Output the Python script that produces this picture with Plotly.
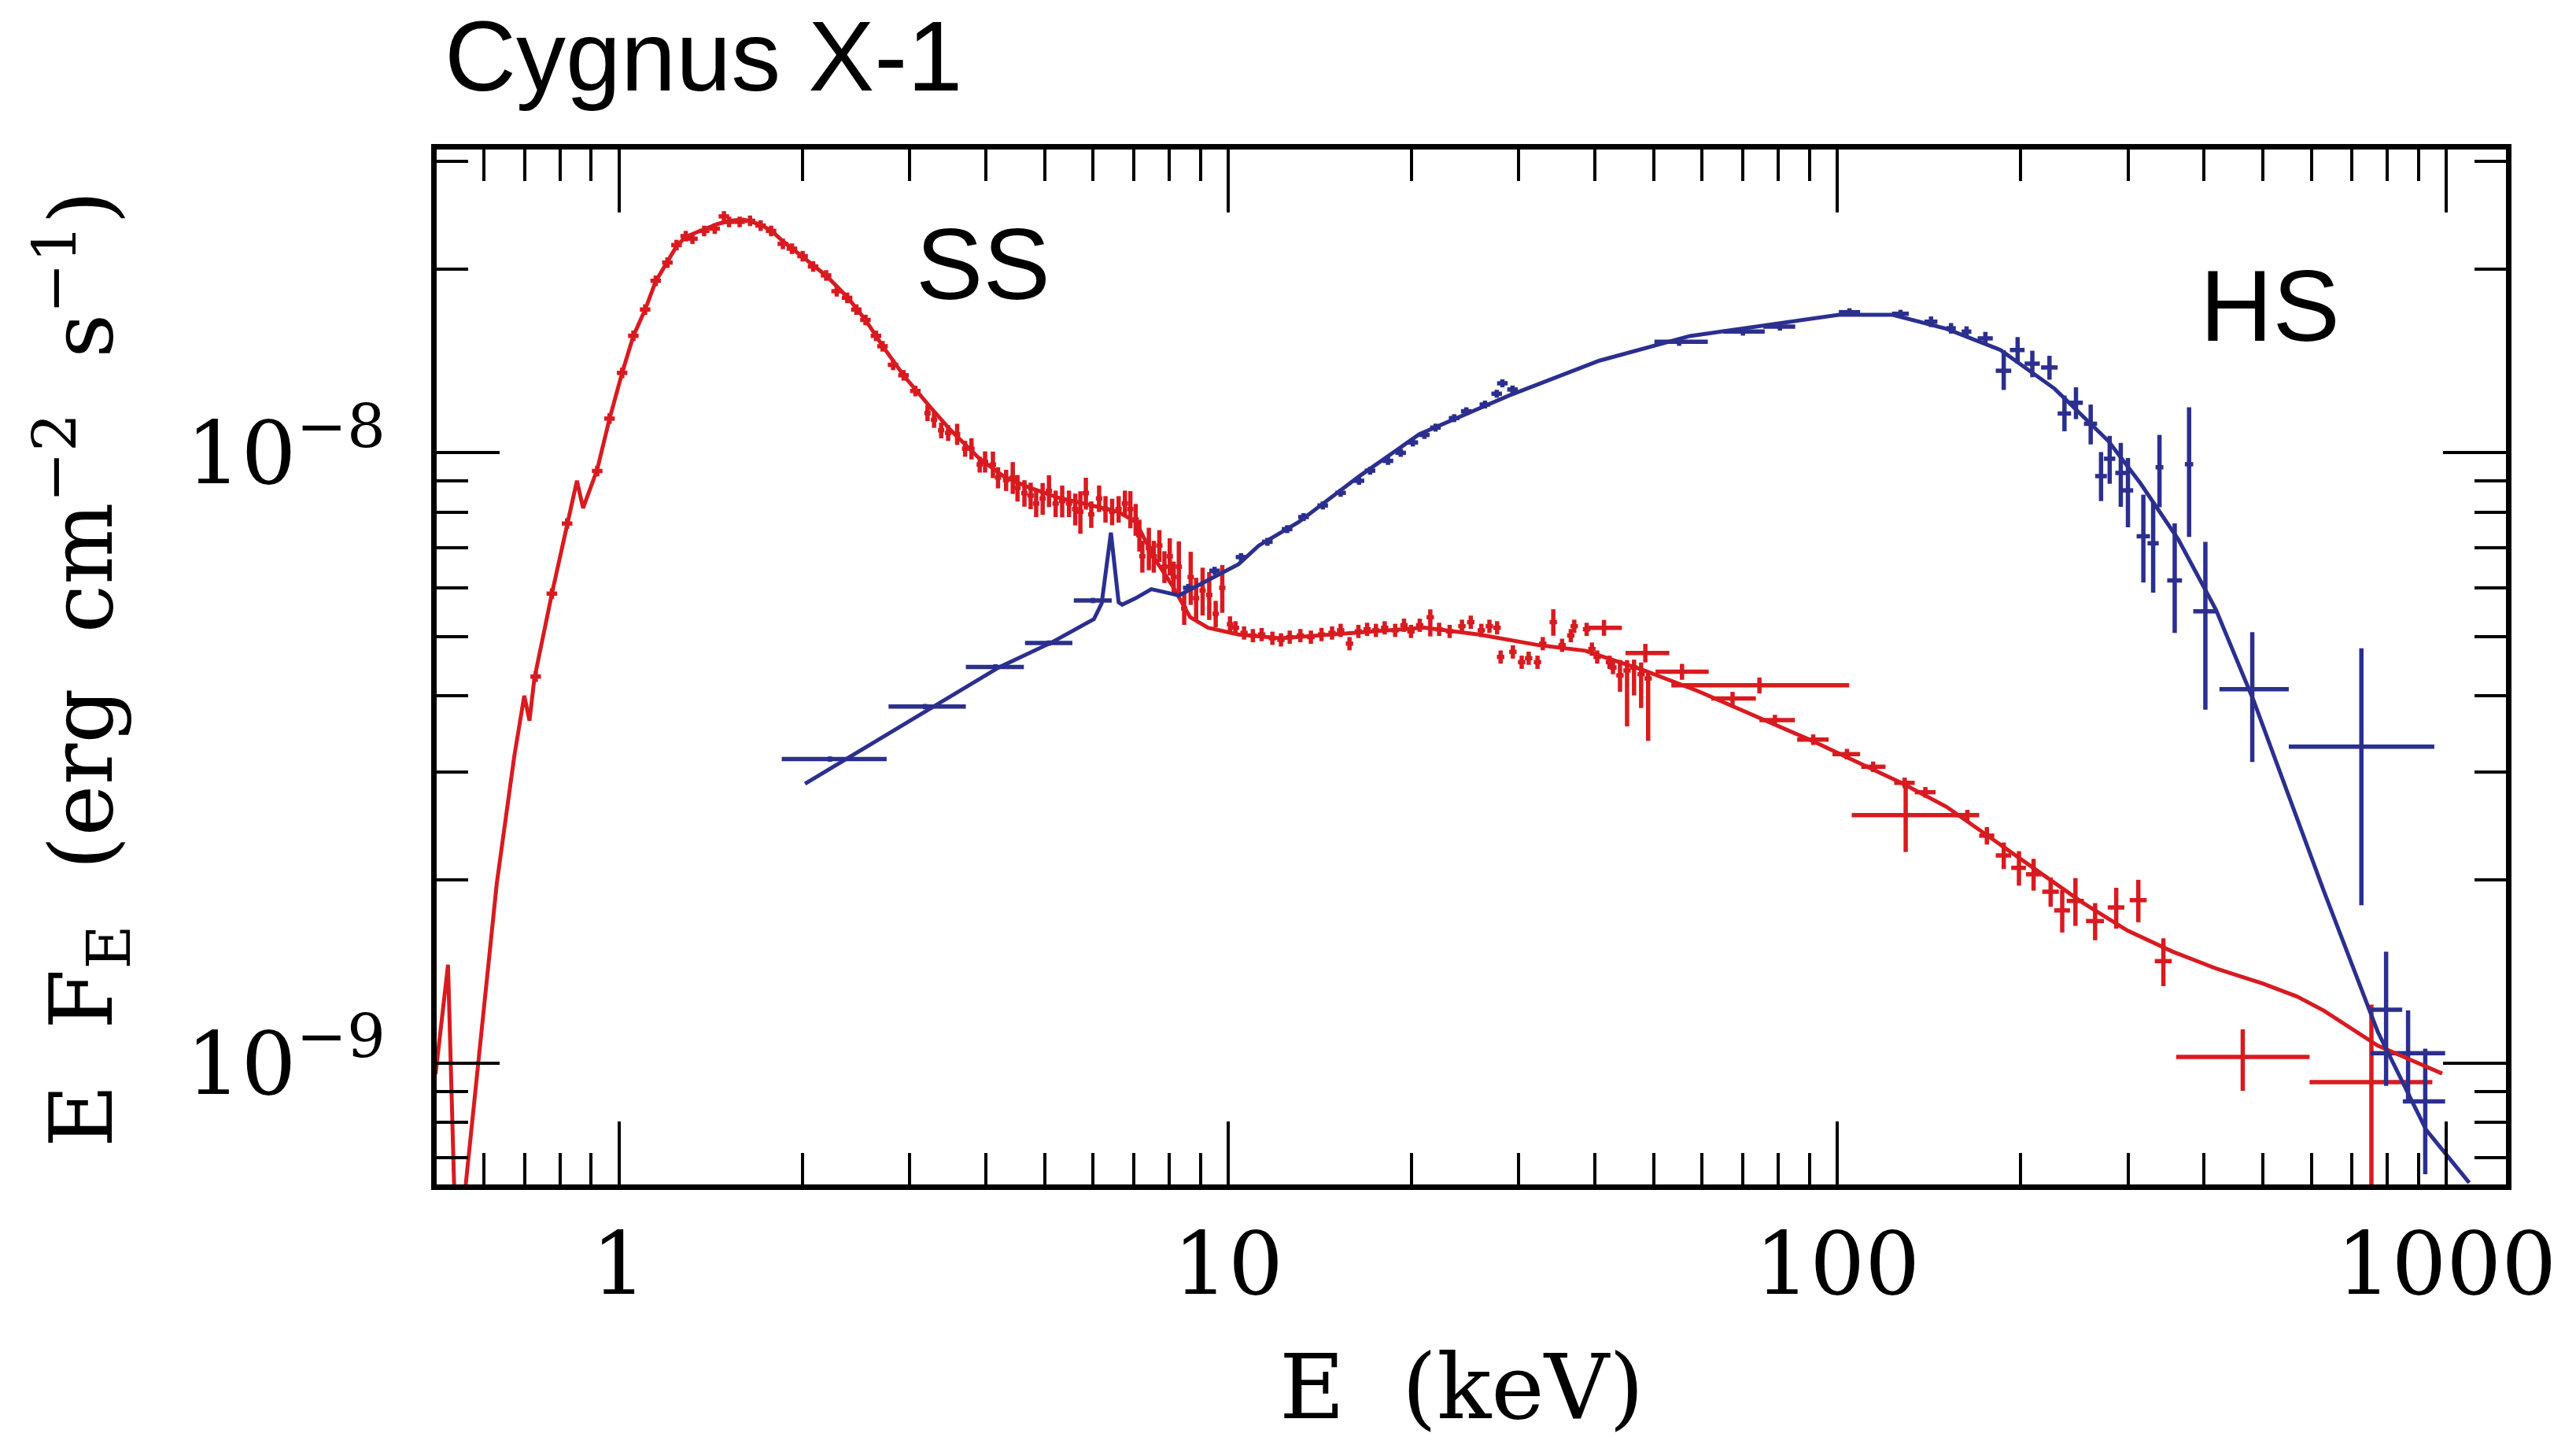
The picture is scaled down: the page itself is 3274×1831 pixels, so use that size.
import plotly.graph_objects as go

RED = "#D81B20"
BLUE = "#2B2F8E"

# ---------------- model curves ----------------
ss_model_E = [0.50, 0.524, 0.536, 0.548, 0.56, 0.63, 0.673, 0.699, 0.713, 0.726, 0.776, 0.822, 0.853, 0.873,
              0.921, 0.965, 1.012, 1.056, 1.104, 1.149, 1.201, 1.243, 1.287, 1.33, 1.38, 1.45, 1.52, 1.60, 1.70,
              1.78, 1.86, 2.0, 2.19, 2.37, 2.54, 2.71, 2.93, 3.24, 3.5, 3.9, 4.28, 4.69, 5.25, 5.88, 6.59, 7.06,
              7.55, 8.09, 8.66, 9.27, 10.4, 12.2, 14.0, 16.4, 21.0, 25.8, 32.4, 38.6, 44.3, 48.2, 59.1, 71.3,
              90.6, 107.4, 127.4, 151.2, 179.4, 212.7, 252.4, 299.3, 355, 418.6, 500, 568, 629, 771, 984]
ss_model_F = [9.6e-10, 1.45e-9, 6.4e-10, 4.0e-10, 6.3e-10, 1.97e-9, 3.18e-9, 4.0e-9, 3.64e-9, 4.26e-9, 5.88e-9,
              7.7e-9, 9.0e-9, 8.12e-9, 9.39e-9, 1.138e-8, 1.352e-8, 1.555e-8, 1.717e-8, 1.91e-8, 2.05e-8, 2.18e-8,
              2.26e-8, 2.29e-8, 2.32e-8, 2.37e-8, 2.40e-8, 2.41e-8, 2.37e-8, 2.31e-8, 2.22e-8, 2.10e-8, 1.95e-8,
              1.80e-8, 1.65e-8, 1.495e-8, 1.34e-8, 1.19e-8, 1.09e-8, 9.8e-9, 9.15e-9, 8.79e-9, 8.45e-9, 8.23e-9,
              8.01e-9, 7.7e-9, 6.74e-9, 6.07e-9, 5.38e-9, 5.17e-9, 5.04e-9, 4.97e-9, 5.02e-9, 5.07e-9, 5.17e-9,
              5.04e-9, 4.84e-9, 4.74e-9, 4.53e-9, 4.40e-9, 4.07e-9, 3.75e-9, 3.38e-9, 3.12e-9, 2.88e-9, 2.63e-9,
              2.33e-9, 2.07e-9, 1.835e-9, 1.65e-9, 1.524e-9, 1.43e-9, 1.35e-9, 1.287e-9, 1.22e-9, 1.069e-9, 9.62e-10]

hs_model_E = [2.02, 4.2, 5.13, 6.02, 6.20, 6.42, 6.61, 6.70, 7.05, 7.48, 7.94, 8.3, 8.77, 9.68, 10.4, 11.23,
              13.05, 16.4, 20.6, 28.9, 40.7, 57.3, 66.9, 82, 100.6, 123.3, 151.2, 185.3, 227.3, 278.7, 314.6,
              363, 418.6, 482.8, 629, 771, 926, 1090]
hs_model_F = [2.87e-9, 4.45e-9, 4.89e-9, 5.34e-9, 5.67e-9, 7.40e-9, 5.69e-9, 5.64e-9, 5.78e-9, 5.98e-9, 5.90e-9,
              5.84e-9, 6.01e-9, 6.32e-9, 6.57e-9, 7.05e-9, 7.70e-9, 9.15e-9, 1.073e-8, 1.241e-8, 1.416e-8,
              1.554e-8, 1.59e-8, 1.639e-8, 1.683e-8, 1.683e-8, 1.596e-8, 1.474e-8, 1.274e-8, 1.045e-8, 8.91e-9,
              7.21e-9, 5.53e-9, 3.92e-9, 1.915e-9, 1.127e-9, 7.78e-10, 6.37e-10]

# ---------------- SS data ----------------
# group A: 0.7 - 3.1 keV (tiny errors)
ss_a_E = [0.730, 0.776, 0.822, 0.921, 0.965, 1.012, 1.056, 1.104, 1.149, 1.201, 1.243, 1.287, 1.32, 1.38, 1.436,
          1.487, 1.516, 1.578, 1.641, 1.708, 1.777, 1.858, 1.923, 2.002, 2.083, 2.188, 2.277, 2.369, 2.453,
          2.539, 2.642, 2.708, 2.818, 2.932, 3.066]
ss_a_F = [4.30e-9, 5.88e-9, 7.66e-9, 9.34e-9, 1.138e-8, 1.352e-8, 1.555e-8, 1.717e-8, 1.914e-8, 2.05e-8, 2.19e-8,
          2.265e-8, 2.243e-8, 2.31e-8, 2.33e-8, 2.44e-8, 2.39e-8, 2.39e-8, 2.40e-8, 2.357e-8, 2.31e-8, 2.20e-8,
          2.16e-8, 2.10e-8, 2.02e-8, 1.953e-8, 1.84e-8, 1.795e-8, 1.717e-8, 1.651e-8, 1.555e-8, 1.495e-8,
          1.394e-8, 1.34e-8, 1.263e-8]
ss_a_yrel = 0.02
ss_a_xrel = 0.02

# group B: 3.2 - 10 keV
ss_b_E = [3.21, 3.29, 3.38, 3.47, 3.59, 3.70, 3.79, 3.91, 3.99, 4.11, 4.19, 4.32, 4.43, 4.51, 4.63, 4.74, 4.84,
          4.96, 5.08, 5.21, 5.34, 5.48, 5.61, 5.72, 5.84, 5.96, 6.14, 6.29, 6.45, 6.61, 6.77, 6.91, 7.05, 7.15,
          7.23, 7.41, 7.55, 7.71, 7.86, 8.02, 8.14, 8.30, 8.47, 8.68, 8.86, 9.08, 9.31, 9.54, 9.78, 10.07]
ss_b_F = [1.162e-8, 1.133e-8, 1.089e-8, 1.078e-8, 1.073e-8, 1.016e-8, 1.016e-8, 9.57e-9, 9.67e-9, 9.57e-9,
          9.11e-9, 9.02e-9, 9.11e-9, 8.76e-9, 8.59e-9, 8.51e-9, 8.26e-9, 8.42e-9, 8.67e-9, 8.26e-9, 8.34e-9,
          8.26e-9, 8.09e-9, 8.01e-9, 8.59e-9, 7.93e-9, 8.42e-9, 8.09e-9, 8.01e-9, 8.09e-9, 8.26e-9, 8.09e-9,
          7.78e-9, 7.33e-9, 6.77e-9, 6.98e-9, 6.77e-9, 7.05e-9, 6.51e-9, 6.77e-9, 6.26e-9, 6.51e-9, 5.56e-9,
          6.26e-9, 5.78e-9, 5.95e-9, 5.85e-9, 5.45e-9, 6.01e-9, 5.24e-9]
ss_b_yrel = [.03, .03, .03, .03, .04, .03, .04, .03, .04, .05, .04, .04, .06, .05, .05, .05, .05, .06, .06, .05,
             .06, .05, .06, .08, .06, .05, .05, .05, .05, .05, .05, .07, .06, .06, .06, .08, .06, .06, .06, .07,
             .06, .10, .06, .10, .08, .09, .09, .05, .09, .03]
ss_b_xrel = 0.012

# group C: 10 - 50 keV
ss_c_E = [10.28, 10.62, 10.98, 11.35, 11.82, 12.21, 12.62, 13.14, 13.67, 14.23, 14.81, 15.30, 15.82, 16.36, 16.91,
          17.48, 18.07, 18.80, 19.44, 19.96, 20.63, 21.47, 22.20, 23.10, 24.20, 25.02, 26.04, 26.85, 27.64, 28.01,
          29.34, 30.33, 31.14, 32.2, 32.85, 34.18, 35.33, 36.52, 37.0, 38.77, 39.55, 40.35, 42.27, 42.83, 43.98,
          45.17, 46.38, 47.64, 48.92]
ss_c_F = [5.17e-9, 5.07e-9, 5.02e-9, 5.04e-9, 4.97e-9, 4.94e-9, 4.99e-9, 5.02e-9, 4.99e-9, 5.04e-9, 5.07e-9,
          5.12e-9, 4.87e-9, 5.10e-9, 5.14e-9, 5.12e-9, 5.17e-9, 5.12e-9, 5.22e-9, 5.10e-9, 5.22e-9, 5.38e-9,
          5.14e-9, 5.10e-9, 5.20e-9, 5.28e-9, 5.12e-9, 5.20e-9, 5.17e-9, 4.63e-9, 4.72e-9, 4.54e-9, 4.61e-9,
          4.54e-9, 4.87e-9, 5.28e-9, 4.84e-9, 5.02e-9, 5.20e-9, 5.14e-9, 4.77e-9, 4.63e-9, 4.54e-9, 4.45e-9,
          4.32e-9, 4.40e-9, 4.45e-9, 4.34e-9, 4.27e-9]
ss_c_up = [.025] * 21 + [.03] + [.025] * 13 + [.05] + [.025] * 8 + [.06, .04, .03, .045, .03]
ss_c_dn = [.025] * 21 + [.07] + [.025] * 13 + [.05] + [.025] * 8 + [.06, .19, .10, .12, .21]
ss_c_xrel = 0.014

# group D: wide bins
ss_d_E = [41.4, 48.4, 55.6, 67.3, 74.5, 79.0, 91.3, 103.7, 114.5, 129.0, 129.5, 139.5, 163.5, 176, 187.6, 198.7,
          210, 224, 234, 246, 265, 287, 312, 343, 463, 753]
ss_d_Elo = [38.5, 44.9, 50.3, 62.1, 53.4, 74.5, 85.9, 98.2, 109.5, 124, 105.6, 134, 156, 171, 182, 193, 204, 217,
            227, 238, 256, 278, 302, 332, 360, 596]
ss_d_Ehi = [44.3, 53.0, 61.5, 73.5, 104.6, 85.2, 96.8, 109, 120, 134, 159, 145, 171, 181, 193, 204, 216, 231,
            241, 254, 274, 296, 322, 354, 596, 948]
ss_d_F = [5.17e-9, 4.70e-9, 4.38e-9, 3.96e-9, 4.16e-9, 3.65e-9, 3.39e-9, 3.21e-9, 3.06e-9, 2.88e-9, 2.55e-9,
          2.78e-9, 2.55e-9, 2.36e-9, 2.19e-9, 2.09e-9, 2.04e-9, 1.91e-9, 1.78e-9, 1.845e-9, 1.71e-9, 1.80e-9,
          1.85e-9, 1.47e-9, 1.024e-9, 9.31e-10]
ss_d_up = [.03, .035, .03, .025, .03, .02, .02, .02, .02, .02, .12, .02, .02, .033, .05, .065, .06, .055, .08,
           .09, .07, .077, .08, .09, .11, .34]
ss_d_dn = [.03, .035, .03, .025, .03, .02, .02, .02, .02, .02, .13, .02, .02, .033, .05, .065, .06, .055, .08,
           .09, .07, .077, .08, .09, .12, .89]

# ---------------- HS data ----------------
hs_w_E = [2.22, 3.18, 4.15, 5.08, 6.0]
hs_w_Elo = [1.85, 2.77, 3.71, 4.64, 5.58]
hs_w_Ehi = [2.75, 3.71, 4.62, 5.55, 6.44]
hs_w_F = [3.15e-9, 3.84e-9, 4.46e-9, 4.88e-9, 5.73e-9]
hs_w_yrel = 0.01

hs_s_E = [8.6, 9.5, 10.5, 11.6, 12.5, 13.3, 14.3, 15.3, 16.4, 17.1, 18.3, 19.2, 20.1, 21.0, 21.9, 23.5, 24.6,
          26.4, 27.6, 28.2, 29.3]
hs_s_F = [6.01e-9, 6.41e-9, 6.75e-9, 7.15e-9, 7.5e-9, 7.85e-9, 8.2e-9, 8.6e-9, 9.0e-9, 9.35e-9, 9.7e-9, 1.0e-8,
          1.04e-8, 1.07e-8, 1.1e-8, 1.14e-8, 1.17e-8, 1.2e-8, 1.25e-8, 1.3e-8, 1.27e-8]
hs_s_yrel = 0.015
hs_s_xrel = 0.02

hs_h_E = [55, 70, 80.5, 104.7, 127, 142.5, 153.7, 163, 175, 187.6, 197.7, 209, 223, 236, 246.5, 260.6, 271, 280,
          292, 300, 318, 330, 338, 358, 378, 402, 480, 725, 796, 865, 923]
hs_h_Elo = [50.1, 65, 75.6, 100.6, 123, 139, 151, 160, 170, 182, 192, 203, 216, 230, 240, 254, 265, 274, 286, 294,
            310, 323, 333, 348, 372, 384, 424, 551, 751, 751, 848]
hs_h_Ehi = [61.3, 76, 85.3, 109, 131, 146, 156.5, 166, 180, 193, 203, 215, 230, 242, 253, 267, 277, 286, 298, 306,
            326, 337, 343, 368, 384, 419, 551, 955, 846, 995, 995]
hs_h_F = [1.52e-8, 1.58e-8, 1.61e-8, 1.70e-8, 1.69e-8, 1.64e-8, 1.60e-8, 1.58e-8, 1.54e-8, 1.363e-8, 1.474e-8,
          1.40e-8, 1.38e-8, 1.16e-8, 1.208e-8, 1.116e-8, 9.16e-9, 9.78e-9, 9.27e-9, 8.68e-9, 7.3e-9, 7.11e-9,
          9.47e-9, 6.18e-9, 9.58e-9, 5.5e-9, 4.1e-9, 3.30e-9, 1.224e-9, 1.039e-9, 8.66e-10]
hs_h_up = [.015, .015, .015, .015, .015, .02, .02, .02, .025, .08, .05, .05, .045, .07, .06, .075, .095, .09, .12,
           .13, .17, .17, .13, .24, .24, .30, .24, .45, .245, .175, .22]
hs_h_dn = [.015, .015, .015, .015, .015, .02, .02, .02, .025, .07, .05, .05, .045, .065, .06, .075, .09, .09, .12,
           .13, .16, .17, .14, .18, .24, .31, .24, .45, .25, .17, .24]

# tick labels / axis texts
x_tickvals = [1, 10, 100, 1000]
x_ticktext = ["1", "10", "100", "1000"]
x_minor = [0.6, 0.7, 0.8, 0.9, 2, 3, 4, 5, 6, 7, 8, 9, 20, 30, 40, 50, 60, 70, 80, 90,
           200, 300, 400, 500, 600, 700, 800, 900]
y_tickvals = [1e-9, 1e-8]
y_ticktext = ["10<sup>−9</sup>", "10<sup>−8</sup>"]
y_minor = [7e-10, 8e-10, 9e-10, 2e-9, 3e-9, 4e-9, 5e-9, 6e-9, 7e-9, 8e-9, 9e-9, 2e-8, 3e-8]
NB = "\u00a0"
x_title = "E" + NB + NB + "(keV)"
y_title = ("E" + NB + NB + "F<sub>E</sub>" + NB + NB + "(erg" + NB + NB + "cm<sup>−2</sup>" + NB + NB
           + "s<sup>−1</sup>)")

fig = go.Figure()

LW = 5
EB = 5.5


def add_points(E, F, xm, xp, ym, yp, color):
    fig.add_trace(go.Scatter(
        x=E, y=F, mode="markers",
        marker=dict(size=6, color=color),
        error_x=dict(type="data", symmetric=False, array=xp, arrayminus=xm,
                     color=color, thickness=EB, width=0),
        error_y=dict(type="data", symmetric=False, array=yp, arrayminus=ym,
                     color=color, thickness=EB, width=0),
        showlegend=False, hoverinfo="skip"))


# SS data
add_points(ss_a_E, ss_a_F,
           [e * ss_a_xrel for e in ss_a_E], [e * ss_a_xrel for e in ss_a_E],
           [f * ss_a_yrel for f in ss_a_F], [f * ss_a_yrel for f in ss_a_F], RED)
add_points(ss_b_E, ss_b_F,
           [e * ss_b_xrel for e in ss_b_E], [e * ss_b_xrel for e in ss_b_E],
           [f * r for f, r in zip(ss_b_F, ss_b_yrel)], [f * r for f, r in zip(ss_b_F, ss_b_yrel)], RED)
add_points(ss_c_E, ss_c_F,
           [e * ss_c_xrel for e in ss_c_E], [e * ss_c_xrel for e in ss_c_E],
           [f * r for f, r in zip(ss_c_F, ss_c_dn)], [f * r for f, r in zip(ss_c_F, ss_c_up)], RED)
add_points(ss_d_E, ss_d_F,
           [e - lo for e, lo in zip(ss_d_E, ss_d_Elo)], [hi - e for e, hi in zip(ss_d_E, ss_d_Ehi)],
           [f * r for f, r in zip(ss_d_F, ss_d_dn)], [f * r for f, r in zip(ss_d_F, ss_d_up)], RED)

# HS data
add_points(hs_w_E, hs_w_F,
           [e - lo for e, lo in zip(hs_w_E, hs_w_Elo)], [hi - e for e, hi in zip(hs_w_E, hs_w_Ehi)],
           [f * hs_w_yrel for f in hs_w_F], [f * hs_w_yrel for f in hs_w_F], BLUE)
add_points(hs_s_E, hs_s_F,
           [e * hs_s_xrel for e in hs_s_E], [e * hs_s_xrel for e in hs_s_E],
           [f * hs_s_yrel for f in hs_s_F], [f * hs_s_yrel for f in hs_s_F], BLUE)
add_points(hs_h_E, hs_h_F,
           [e - lo for e, lo in zip(hs_h_E, hs_h_Elo)], [hi - e for e, hi in zip(hs_h_E, hs_h_Ehi)],
           [f * r for f, r in zip(hs_h_F, hs_h_dn)], [f * r for f, r in zip(hs_h_F, hs_h_up)], BLUE)

# models
fig.add_trace(go.Scatter(x=ss_model_E, y=ss_model_F, mode="lines",
                         line=dict(color=RED, width=LW), showlegend=False, hoverinfo="skip"))
fig.add_trace(go.Scatter(x=hs_model_E, y=hs_model_F, mode="lines",
                         line=dict(color=BLUE, width=LW), showlegend=False, hoverinfo="skip"))

axis_font = dict(family="DejaVu Serif", size=110, color="black")
title_font = dict(family="DejaVu Serif", size=114, color="black")

fig.update_xaxes(
    type="log", range=[-0.2993, 3.0977],
    tickvals=x_tickvals, ticktext=x_ticktext,
    ticks="inside", ticklen=80, tickwidth=4, tickcolor="black",
    showline=True, linewidth=7, linecolor="black", mirror="ticks",
    showgrid=False, zeroline=False, tickfont=axis_font, ticklabelstandoff=0,
    minor=dict(tickvals=x_minor, ticks="inside", ticklen=40, tickwidth=4, tickcolor="black", showgrid=False),
)
fig.update_yaxes(
    type="log", range=[-9.1985, -7.5031],
    tickvals=y_tickvals, ticktext=y_ticktext,
    ticks="inside", ticklen=80, tickwidth=4, tickcolor="black",
    showline=True, linewidth=7, linecolor="black", mirror="ticks",
    showgrid=False, zeroline=False, tickfont=axis_font, ticklabelstandoff=36,
    minor=dict(tickvals=y_minor, ticks="inside", ticklen=40, tickwidth=4, tickcolor="black", showgrid=False),
)

sans = "Liberation Sans, Arial, Helvetica, sans-serif"
fig.update_layout(
    width=3274, height=1831,
    margin=dict(l=555, r=89, t=190, b=326),
    paper_bgcolor="white", plot_bgcolor="white",
    showlegend=False,
    annotations=[
        dict(text="Cygnus X-1", xref="paper", yref="paper", x=0.003, y=1.09, xanchor="left", yanchor="middle",
             showarrow=False, font=dict(family=sans, size=126, color="black")),
        dict(text="SS", xref="paper", yref="paper", x=0.2639, y=0.8897, xanchor="center", yanchor="middle",
             showarrow=False, font=dict(family=sans, size=128, color="black")),
        dict(text="HS", xref="paper", yref="paper", x=0.886, y=0.8487, xanchor="center", yanchor="middle",
             showarrow=False, font=dict(family=sans, size=128, color="black")),
        dict(text=x_title, xref="paper", yref="paper", x=0.4954, y=-0.196, xanchor="center", yanchor="middle",
             showarrow=False, font=title_font),
        dict(text=y_title, xref="paper", yref="paper",
             x=-0.1715, y=0.498, xanchor="center", yanchor="middle", textangle=-90,
             showarrow=False, font=axis_font),
    ],
)

fig.write_html("out.html")
